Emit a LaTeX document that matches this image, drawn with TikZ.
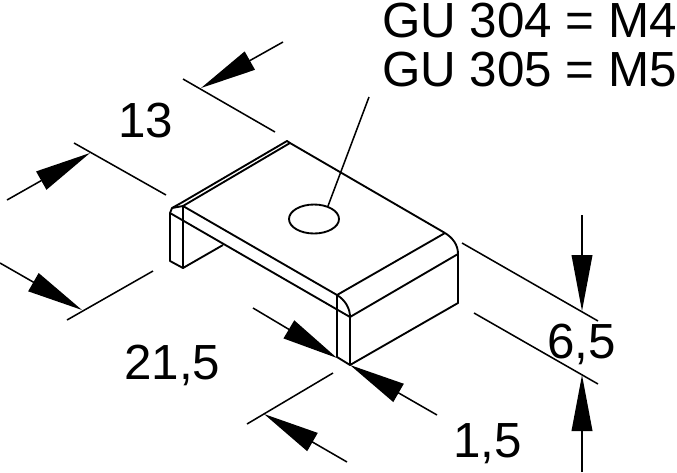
\documentclass[tikz,border=0pt]{standalone}
\usepackage{fontspec}
\setmainfont{Liberation Sans}
\usetikzlibrary{arrows.meta}
\tikzset{
  part/.style={line width=1.4pt, black, line join=round},
  dimline/.style={line width=1.15pt, black},
  dimarrow/.style={line width=1.15pt, black, -{Triangle[length=42pt,width=15.5pt]}},
  dimtext/.style={anchor=base west, inner sep=0pt, font=\fontsize{37}{42}\selectfont}
}
\begin{document}
\begin{tikzpicture}[x=0.75pt,y=-0.75pt]
\useasboundingbox (0,0) rectangle (677,472);
% clamp
\draw[part](181,203)--(287,141)--(290,143)--(183,206);
\draw[part](181,203)--(172,208)--(170,213)--(170,261)--(183,268)--(183,205);
\draw[part](172,208)--(183,206);
\draw[part](183,268)--(223,245);
\draw[part](170,213)--(350,317);
\draw[part](183,206)--(337,295);
\draw[part](290,143)--(445,233);
\draw[part](445,233) .. controls (453,238) and (458,245) .. (458,254);
\draw[part](458,254)--(458,303)--(350,365)--(337,357)--(337,295);
\draw[part](337,295) .. controls (345,300) and (350,308) .. (350,317);
\draw[part](350,317)--(350,365);
\draw[part](337,295)--(445,233);
\draw[part](350,317)--(458,254);
\draw[part](314,219) ellipse (25 and 14.5);
\draw[dimline](369,97)--(328,206);
% 13
\draw[dimline](183,79)--(275,132);
\draw[dimline](74,143)--(166,195);
\draw[dimarrow](283,42)--(201,88);
\draw[dimarrow](7,200)--(90,153);
% 21,5
\draw[dimline](67,320)--(153,271);
\draw[dimarrow](0,263)--(82,310);
\draw[dimline](247,424)--(333,373);
% 1,5
\draw[dimarrow](253,308)--(337,358);
\draw[dimarrow](437,415)--(350,365);
\draw[dimarrow](347,462)--(264,414);
% 6,5
\draw[dimline](462,243)--(598,321);
\draw[dimline](474,313)--(598,384);
\draw[dimarrow](582,215)--(582,311);
\draw[dimarrow](582,472)--(582,375);
\node[dimtext] at (382,37) (gu304) {GU 304 = M4};
\node[dimtext] at (382,86) (gu305) {GU 305 = M5};
\node[dimtext] at (118,137) (d13) {13};
\node[dimtext] at (124,379) (d215) {21,5};
\node[dimtext] at (453,457) (d15) {1,5};
\node[dimtext] at (547,358) (d65) {6,5};
\end{tikzpicture}
\end{document}
